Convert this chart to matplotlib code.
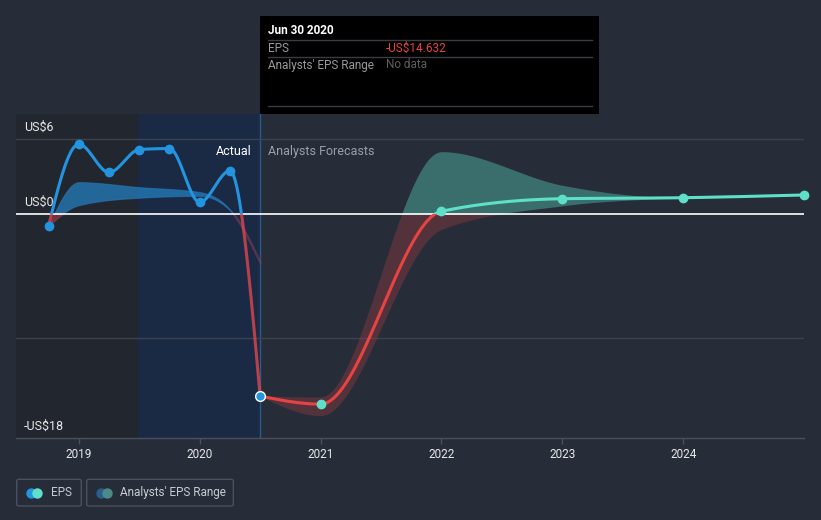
import numpy as np
import matplotlib
matplotlib.use("Agg")
import matplotlib.pyplot as plt
from matplotlib.patches import Rectangle, FancyBboxPatch
from matplotlib.lines import Line2D

plt.rcParams['font.family'] = ['Roboto', 'DejaVu Sans']

# ---------------- data ----------------
hist_x = [2018.75, 2019.0, 2019.25, 2019.5, 2019.75, 2020.0, 2020.25, 2020.5]
hist_eps = [-0.94, 5.6, 3.33, 5.17, 5.25, 0.93, 3.46, -14.632]

hist_band_x = [2018.75, 2019.0, 2019.5, 2020.0, 2020.25, 2020.5]
hist_band_low = [-0.94, 0.7, 1.3, 1.45, 0.3, -3.9]
hist_band_high = [-0.94, 2.55, 2.15, 1.75, 0.35, -3.9]

fc_x = [2020.5, 2021.0, 2022.0, 2023.0, 2024.0, 2025.0]
fc_eps = [-14.632, -15.28, 0.21, 1.22, 1.30, 1.52]
fc_low = [-14.632, -16.2, -1.25, 0.65, 1.3, 1.52]
fc_high = [-14.632, -14.7, 5.0, 2.3, 1.3, 1.52]

year_ticks = [2019, 2020, 2021, 2022, 2023, 2024]
y_labels = [(6, "US$6"), (0, "US$0"), (-18, "-US$18")]

# ---------------- helpers ----------------
W, H = 821, 520
BG = '#262d39'


def monotone(xs, ys, n=80):
    xs = np.asarray(xs, float)
    ys = np.asarray(ys, float)
    h = np.diff(xs)
    s = np.diff(ys) / h
    m = np.zeros(len(xs))
    for i in range(1, len(xs) - 1):
        p = (s[i - 1] * h[i] + s[i] * h[i - 1]) / (h[i - 1] + h[i])
        m[i] = (np.sign(s[i - 1]) + np.sign(s[i])) * min(abs(s[i - 1]), abs(s[i]), 0.5 * abs(p))
    m[0] = (3 * s[0] - m[1]) / 2
    m[-1] = (3 * s[-1] - m[-2]) / 2
    X, Y = [], []
    for i in range(len(xs) - 1):
        t = np.linspace(0, 1, n, endpoint=(i == len(xs) - 2))
        h00 = 2 * t**3 - 3 * t**2 + 1
        h10 = t**3 - 2 * t**2 + t
        h01 = -2 * t**3 + 3 * t**2
        h11 = t**3 - t**2
        X.append(xs[i] + t * h[i])
        Y.append(h00 * ys[i] + h10 * h[i] * m[i] + h01 * ys[i + 1] + h11 * h[i] * m[i + 1])
    return np.concatenate(X), np.concatenate(Y)


def fx(x):
    return x / W


def fy(y):
    return 1 - y / H


fig = plt.figure(figsize=(W / 100, H / 100), dpi=100, facecolor=BG)
ax = fig.add_axes([fx(16), fy(438), fx(804) - fx(16), fy(114.3) - fy(438)])
ax.set_facecolor(BG)
XMIN, XMAX = 2018.48, 2025.0
YMIN, YMAX = -18, 8
ax.set_xlim(XMIN, XMAX)
ax.set_ylim(YMIN, YMAX)


def clip_above(artist):
    r = Rectangle((XMIN - 1, 0), 10, 100, transform=ax.transData)
    artist.set_clip_path(r)


def clip_below(artist):
    r = Rectangle((XMIN - 1, -100), 10, 100, transform=ax.transData)
    artist.set_clip_path(r)


# background regions
ax.axvspan(XMIN, 2019.49, color='#22262e', zorder=0, lw=0)
ax.axvspan(2019.49, 2020.5, color='#1b2a44', zorder=0, lw=0)
ax.axvline(2020.5, color='#2a5a8e', lw=1, zorder=1)

# grid
for g in [6, -10]:
    ax.axhline(g, color='#3b414d', lw=1, zorder=1)

# historical band
bx, bl = monotone(hist_band_x, hist_band_low)
_, bh = monotone(hist_band_x, hist_band_high)
p1 = ax.fill_between(bx, bl, bh, color='#2394df', alpha=0.6, lw=0.8, edgecolor='#2a78b8', zorder=2)
clip_above(p1)
p2 = ax.fill_between(bx, bl, bh, color='#e0454f', alpha=0.4, lw=1.5, edgecolor='#a0445a', zorder=2)
clip_below(p2)

# forecast band
fxs, fl = monotone(fc_x, fc_low)
_, fh = monotone(fc_x, fc_high)
p3 = ax.fill_between(fxs, fl, fh, color='#5ee0c8', alpha=0.37, lw=0, zorder=2)
clip_above(p3)
p4 = ax.fill_between(fxs, fl, fh, color='#e84343', alpha=0.24, lw=0, zorder=2)
clip_below(p4)

# zero line
ax.axhline(0, color='white', lw=1.2, zorder=3)

# historical line
hx, hy = monotone(hist_x, hist_eps)
l1, = ax.plot(hx, hy, color='#2394df', lw=2.2, zorder=4, solid_capstyle='round')
clip_above(l1)
l2, = ax.plot(hx, hy, color='#e0454f', lw=2.2, alpha=0.8, zorder=4)
clip_below(l2)
ax.plot(hist_x[:-1], hist_eps[:-1], 'o', color='#2394df', ms=6, zorder=5)

# forecast line
ex, ey = monotone(fc_x, fc_eps)
l3, = ax.plot(ex, ey, color='#5ee0c8', lw=2.2, zorder=4)
clip_above(l3)
l4, = ax.plot(ex, ey, color='#e84343', lw=2.2, zorder=4)
clip_below(l4)
ax.plot(fc_x[1:], fc_eps[1:], 'o', color='#5ee0c8', ms=6, zorder=5, clip_on=False)
ax.plot([hist_x[-1]], [hist_eps[-1]], 'o', color='#2394df', ms=7, mec='white', mew=1, zorder=6)

# axes styling
for sp in ['top', 'right', 'left']:
    ax.spines[sp].set_visible(False)
ax.spines['bottom'].set_color('#4a505c')
ax.spines['bottom'].set_linewidth(1)
ax.set_yticks([])
ax.set_xticks(year_ticks)
ax.set_xticklabels([str(y) for y in year_ticks])
ax.tick_params(axis='x', colors='#4a505c', length=4, width=1, labelcolor='#e8e8e8', labelsize=8.5, pad=3)

# y labels placed just above their gridlines
for v, lab in y_labels:
    ax.annotate(lab, xy=(0, v), xycoords=('figure fraction', 'data'),
                xytext=(24, 11.5), textcoords='offset pixels',
                fontsize=9, color='#e8e8e8', va='center', ha='left', annotation_clip=False)

fig.text(fx(252), fy(151), "Actual", fontsize=9, color='#ffffff', va='center', ha='right')
fig.text(fx(268), fy(151), "Analysts Forecasts", fontsize=9, color='#9aa0aa', va='center', ha='left')

# tooltip
fig.patches.append(Rectangle((fx(260), fy(114)), fx(599) - fx(260), fy(16) - fy(114),
                             transform=fig.transFigure, facecolor='black', edgecolor='none', zorder=10))
for ly in [40.3, 57.3, 106.3]:
    fig.add_artist(Line2D([fx(268), fx(592)], [fy(ly), fy(ly)], transform=fig.transFigure,
                          color='#3a3d44', lw=1, zorder=11))
fig.text(fx(268), fy(31), "Jun 30 2020", fontsize=8.5, color='white', fontweight='bold', va='center', zorder=12)
fig.text(fx(268), fy(48.5), "EPS", fontsize=8.5, color='#9a9a9a', va='center', zorder=12)
fig.text(fx(386), fy(48.5), "-US$14.632", fontsize=8.5, color='#e84343', va='center', zorder=12)
fig.text(fx(268), fy(65), "Analysts' EPS Range", fontsize=8.5, color='#9a9a9a', va='center', zorder=12)
fig.text(fx(386), fy(65), "No data", fontsize=8.5, color='#5e5e5e', va='center', zorder=12)

# legend
for x0, x1 in [(16.7, 81.3), (86.7, 233.3)]:
    fig.patches.append(FancyBboxPatch((fx(x0), fy(506)), fx(x1) - fx(x0), fy(479.3) - fy(506),
                                      boxstyle='round,pad=0,rounding_size=0.003',
                                      transform=fig.transFigure, facecolor='none',
                                      edgecolor='#4a505c', lw=1))
for cx, c in [(31, '#2394df'), (37, '#5ee0c8')]:
    fig.add_artist(Line2D([fx(cx)], [fy(492.5)], transform=fig.transFigure, marker='o',
                          ms=7.5, color=c, mew=0, ls='none'))
fig.text(fx(50.5), fy(492.5), "EPS", fontsize=8.5, color='#c8ccd2', va='center')
for cx, c in [(101, '#2a5f8c'), (107, '#4b8a86')]:
    fig.add_artist(Line2D([fx(cx)], [fy(492.5)], transform=fig.transFigure, marker='o',
                          ms=7.5, color=c, mew=0, ls='none'))
fig.text(fx(120.5), fy(492.5), "Analysts' EPS Range", fontsize=8.5, color='#c8ccd2', va='center')

fig.savefig('out.png', dpi=100, facecolor=BG)
